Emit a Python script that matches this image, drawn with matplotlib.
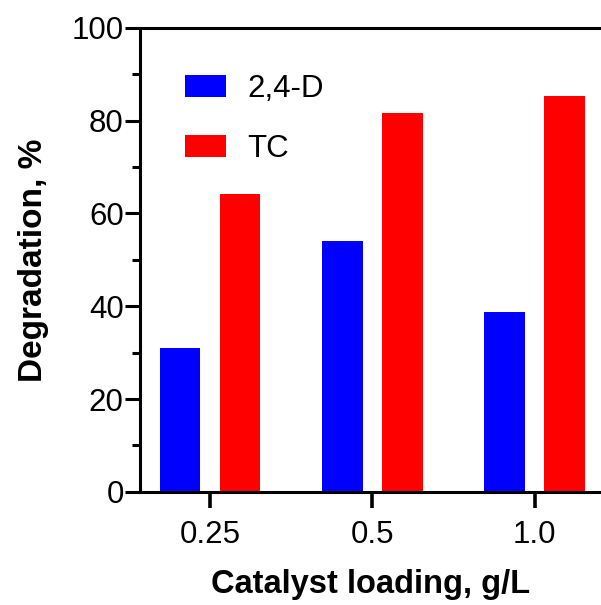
import matplotlib
matplotlib.use('Agg')
import matplotlib.pyplot as plt
from matplotlib.ticker import MultipleLocator
import numpy as np

loadings = ['0.25', '0.5', '1.0']
deg_24d = [31.1, 54.1, 38.7]
deg_tc = [64.1, 81.6, 85.4]

plt.rcParams['font.family'] = ['Liberation Sans', 'DejaVu Sans']

fig = plt.figure(figsize=(6.01, 6.05), dpi=100)
ax = fig.add_axes([0.233, 0.187, 0.766, 0.767])

x = np.arange(len(loadings))
w = 0.25
ax.bar(x - 0.185, deg_24d, w, color='#0000ff', label='2,4-D')
ax.bar(x + 0.185, deg_tc, w, color='#ff0000', label='TC')

ax.set_xlim(-0.43, 2.405)
ax.set_ylim(0, 100)
ax.set_xticks(x)
ax.set_xticklabels(loadings)
ax.yaxis.set_major_locator(MultipleLocator(20))
ax.yaxis.set_minor_locator(MultipleLocator(10))

for s in ['left', 'bottom', 'top']:
    ax.spines[s].set_linewidth(2.2)
ax.spines['right'].set_visible(False)

ax.tick_params(axis='y', which='major', length=10.8, width=2.2, labelsize=22.5, pad=1)
ax.tick_params(axis='y', which='minor', length=6, width=2.2)
ax.tick_params(axis='x', which='major', length=11.5, width=2.6, labelsize=22.5, pad=9)

ax.set_ylabel('Degradation, %', fontsize=24, fontweight='bold', labelpad=16)
ax.set_xlabel('Catalyst loading, g/L', fontsize=23.5, fontweight='bold', labelpad=13.5)

ax.legend(loc='upper left', bbox_to_anchor=(0.098, 0.90), frameon=False,
          borderpad=0, borderaxespad=0,
          fontsize=22.5, handlelength=1.3, handleheight=0.72, labelspacing=0.95,
          handletextpad=0.7)

fig.savefig('out.png', dpi=100)
